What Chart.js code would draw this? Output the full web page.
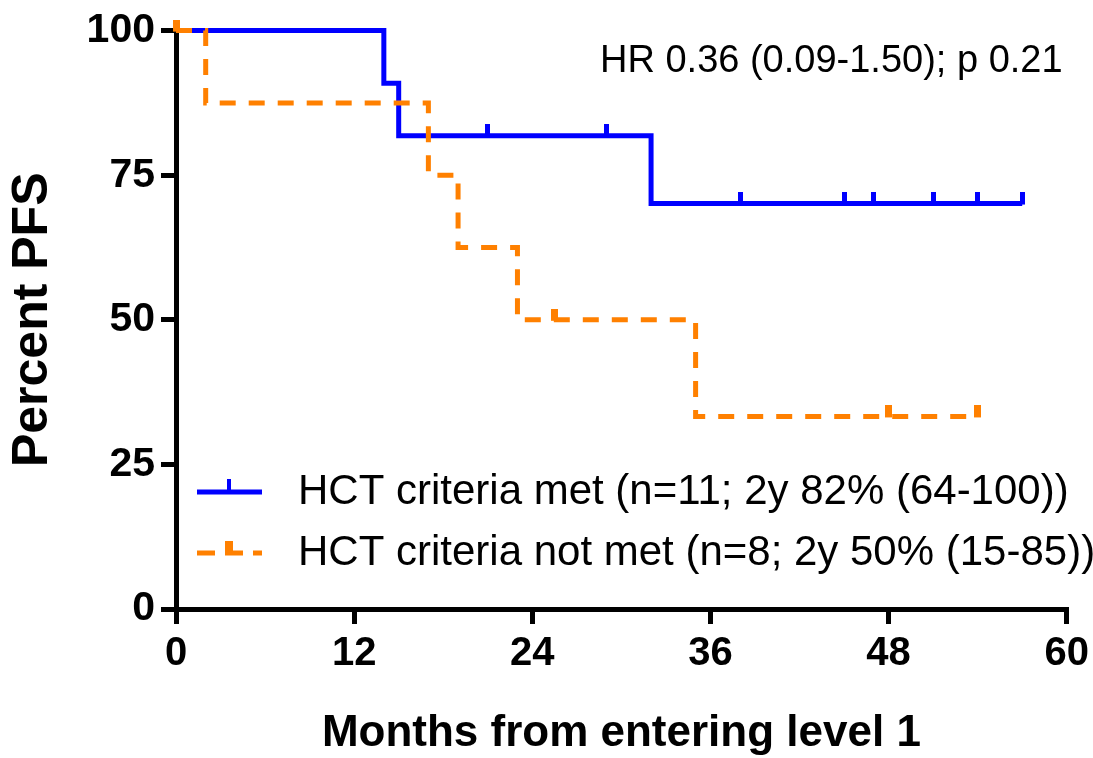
<!DOCTYPE html>
<html>
<head>
<meta charset="utf-8">
<title>Percent PFS</title>
<script src="https://cdn.jsdelivr.net/npm/chart.js@4.4.1/dist/chart.umd.min.js"></script>
<style>
  html, body { margin: 0; padding: 0; background: #fff; }
  #wrap { width: 1093px; height: 758px; }
</style>
</head>
<body>
<div id="wrap"><canvas id="pfsChart" width="1093" height="758"></canvas></div>
<script>
// Kaplan-Meier steps: months vs percent PFS
const metMonths = [0, 14, 15, 32, 57];
const metPct = [100, 90.9, 81.8, 70.1, 70.1];
const metCensorMonths = [21, 29, 38, 45, 47, 51, 54, 57];
const metCensorPct = [81.8, 81.8, 70.1, 70.1, 70.1, 70.1, 70.1, 70.1];

const notMetMonths = [0, 2, 17, 19, 23, 35, 54];
const notMetPct = [100, 87.5, 75, 62.5, 50, 33.3, 33.3];
const notMetCensorMonths = [0, 25.5, 48, 54];
const notMetCensorPct = [100, 50, 33.3, 33.3];

const xTicks = [0, 12, 24, 36, 48, 60];
const yTicks = [0, 25, 50, 75, 100];

const legendLabels = ['HCT criteria met (n=11; 2y 82% (64-100))', 'HCT criteria not met (n=8; 2y 50% (15-85))'];
const hrNote = 'HR 0.36 (0.09-1.50); p 0.21';

const BLUE = '#0000ff';
const ORANGE = '#ff8000';
const FONT = '"Liberation Sans", Arial, Helvetica, sans-serif';

function toPoints(xs, ys) {
    return xs.map((x, i) => ({ x: x, y: ys[i] }));
}

// censor tick: a small bar sticking up from the curve (image centred on the point)
function censorMark(color, w, h) {
    const c = document.createElement('canvas');
    c.width = w;
    c.height = h * 2;
    const g = c.getContext('2d');
    g.fillStyle = color;
    g.fillRect(0, 0, w, h + 1);
    return c;
}

// legend rows and HR note
const notesPlugin = {
    id: 'kmNotes',
    afterDraw(chart) {
        const ctx = chart.ctx;
        ctx.save();
        ctx.fillStyle = '#000';
        ctx.textBaseline = 'middle';
        ctx.textAlign = 'left';
        ctx.font = '38px ' + FONT;
        ctx.fillText(hrNote, 600, 62);

        // blue row
        let y = 492;
        ctx.strokeStyle = BLUE;
        ctx.lineWidth = 5;
        ctx.beginPath();
        ctx.moveTo(197, y);
        ctx.lineTo(262, y);
        ctx.stroke();
        ctx.fillStyle = BLUE;
        ctx.fillRect(227, y - 13, 4, 13);

        // orange row
        y = 553;
        ctx.strokeStyle = ORANGE;
        ctx.setLineDash([18, 10]);
        ctx.beginPath();
        ctx.moveTo(197, y);
        ctx.lineTo(262, y);
        ctx.stroke();
        ctx.setLineDash([]);
        ctx.fillStyle = ORANGE;
        ctx.fillRect(225, y - 12, 8, 12);

        ctx.fillStyle = '#000';
        ctx.font = '42px ' + FONT;
        ctx.fillText(legendLabels[0], 298, 492);
        ctx.fillText(legendLabels[1], 298, 553);
        ctx.restore();
    }
};

const axisColor = '#000';

new Chart(document.getElementById('pfsChart'), {
    type: 'scatter',
    data: {
        datasets: [{
            label: legendLabels[1],
            data: toPoints(notMetMonths, notMetPct),
            showLine: true,
            stepped: true,
            borderColor: ORANGE,
            borderWidth: 5,
            borderDash: [16, 13],
            pointRadius: 0,
            clip: false,
            order: 0
        }, {
            label: 'not met censored',
            data: toPoints(notMetCensorMonths, notMetCensorPct),
            showLine: false,
            pointStyle: censorMark(ORANGE, 7, 11),
            pointRadius: 6,
            clip: false,
            order: 0
        }, {
            label: legendLabels[0],
            data: toPoints(metMonths, metPct),
            showLine: true,
            stepped: true,
            borderColor: BLUE,
            borderWidth: 5,
            pointRadius: 0,
            clip: false,
            order: 1
        }, {
            label: 'met censored',
            data: toPoints(metCensorMonths, metCensorPct),
            showLine: false,
            pointStyle: censorMark(BLUE, 5, 12),
            pointRadius: 6,
            clip: false,
            order: 1
        }]
    },
    options: {
        responsive: false,
        devicePixelRatio: 1,
        animation: false,
        layout: { padding: { top: 30, right: 21, left: 0, bottom: 0 } },
        plugins: {
            legend: { display: false },
            tooltip: { enabled: false }
        },
        scales: {
            x: {
                type: 'linear',
                min: 0,
                max: 60,
                afterBuildTicks: (scale) => { scale.ticks = xTicks.map(v => ({ value: v })); },
                afterFit: (scale) => { scale.height = 149; },
                border: { color: axisColor, width: 5 },
                grid: { drawOnChartArea: false, drawTicks: true, tickLength: 15, color: axisColor, lineWidth: 5 },
                ticks: { color: '#000', padding: 4, font: { family: FONT, size: 40, weight: 'bold', lineHeight: 1.3 }, maxRotation: 0 },
                title: {
                    display: true,
                    text: 'Months from entering level 1',
                    color: '#000',
                    font: { family: FONT, size: 44, weight: 'bold', lineHeight: 1 },
                    padding: { top: 0, bottom: 2 }
                }
            },
            y: {
                type: 'linear',
                min: 0,
                max: 100,
                afterBuildTicks: (scale) => { scale.ticks = yTicks.map(v => ({ value: v })); },
                afterFit: (scale) => { scale.width = 176; },
                border: { color: axisColor, width: 5 },
                grid: { drawOnChartArea: false, drawTicks: true, tickLength: 15, color: axisColor, lineWidth: 5 },
                ticks: { color: '#000', padding: 6, font: { family: FONT, size: 41, weight: 'bold' } },
                title: {
                    display: true,
                    text: 'Percent PFS',
                    color: '#000',
                    font: { family: FONT, size: 50, weight: 'bold', lineHeight: 1 },
                    padding: { top: 8, bottom: 0 }
                }
            }
        }
    },
    plugins: [notesPlugin]
});
</script>
</body>
</html>
